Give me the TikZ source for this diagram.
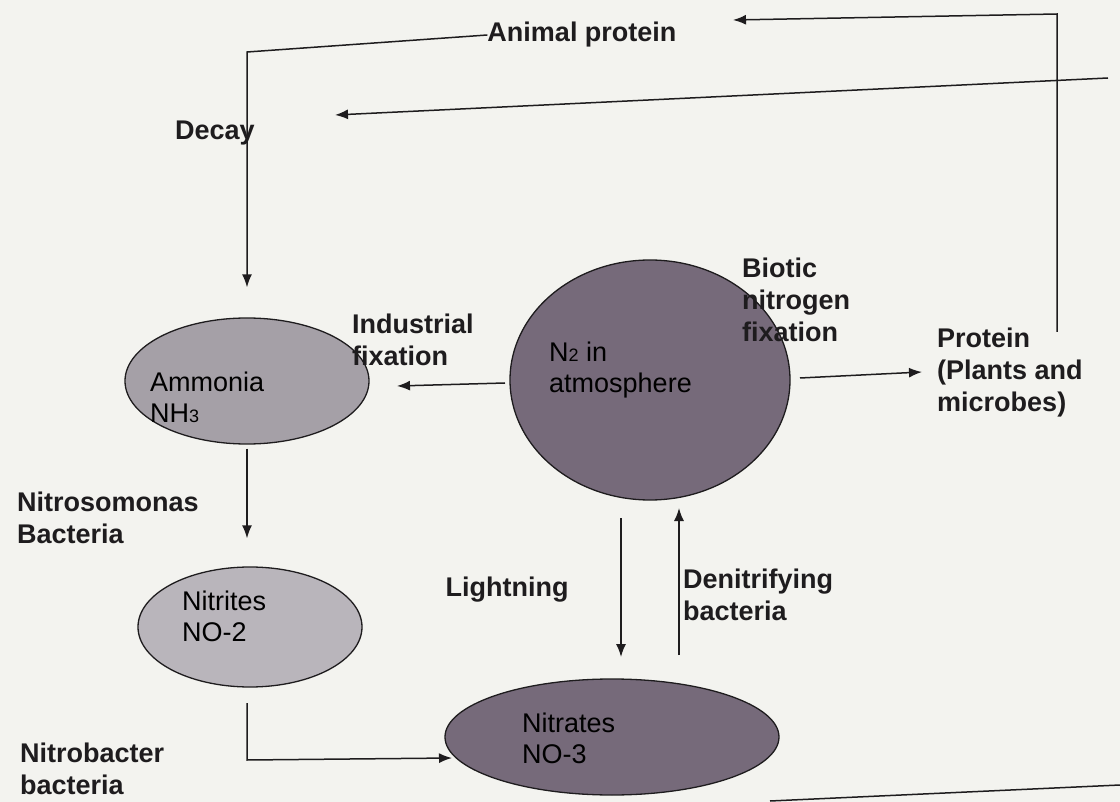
\documentclass[tikz,border=0pt]{standalone}
\usepackage{fontspec}
\setmainfont{Liberation Sans}
\usetikzlibrary{shapes.geometric,arrows.meta}
\definecolor{paper}{RGB}{243,243,239}
\definecolor{darkblob}{RGB}{118,106,122}
\definecolor{midblob}{RGB}{165,160,167}
\definecolor{lightblob}{RGB}{185,181,187}
\definecolor{ink}{RGB}{30,28,30}
\tikzset{
  blob/.style={ellipse, draw=ink, line width=1.3pt, inner sep=0pt},
  lbl/.style={font=\fontsize{27}{32}\selectfont\bfseries, text=ink, align=left, inner sep=0pt},
  intxt/.style={font=\fontsize{27}{31}\selectfont, text=black, align=left, inner sep=0pt, anchor=west},
  arr/.style={draw=ink, line width=1.5pt, -{Latex[length=13pt,width=10pt]}},
  ln/.style={draw=ink, line width=1.5pt}
}
\begin{document}
\begin{tikzpicture}[x=1pt,y=-1pt]
\useasboundingbox (0,0) rectangle (1120,802);
\fill[paper] (0,0) rectangle (1120,802);

% ellipses
\node[blob, fill=midblob, minimum width=244pt, minimum height=126pt] (amm) at (247,381) {};
\node[blob, fill=darkblob, minimum width=280pt, minimum height=240pt] (n2) at (650,380) {};
\node[blob, fill=lightblob, minimum width=224pt, minimum height=120pt] (nit) at (250,627) {};
\node[blob, fill=darkblob, minimum width=334pt, minimum height=116pt] (nat) at (612,737) {};

% texts inside
\node[intxt] (ammt) at (150,397) {Ammonia\\NH{\fontsize{18}{18}\selectfont 3}};
\node[intxt] (n2t) at (549,370) {N{\fontsize{18}{18}\selectfont 2} in\\atmosphere};
\node[intxt] (nitt) at (182,616) {Nitrites\\NO-2};
\node[intxt] (natt) at (522,738) {Nitrates\\NO-3};

% labels
\node[lbl] (aptext) at (582,35) {Animal protein};
\node[lbl] (decay) at (215,133) {Decay};
\node[lbl, anchor=west] (indf) at (352,340) {Industrial\\fixation};
\node[lbl, anchor=west] (biot) at (742,300) {Biotic\\nitrogen\\fixation};
\node[lbl, anchor=west] (prot) at (937,373) {Protein\\(Plants and\\microbes)};
\node[lbl] (light) at (507,590) {Lightning};
\node[lbl, anchor=west] (denit) at (683,595) {Denitrifying\\bacteria};
\node[lbl, anchor=west] (nsm) at (17,518) {Nitrosomonas\\Bacteria};
\node[lbl, anchor=west] (nbc) at (20,769) {Nitrobacter\\bacteria};

% coordinates
\coordinate (r1) at (1057,332);
\coordinate (r2) at (1057,14);
\coordinate (aptip) at (733,20);
\coordinate (dk) at (247,52);
\coordinate (l2a) at (1108,78);
\coordinate (l2b) at (335,115);
\coordinate (ifs) at (505,383);
\coordinate (ift) at (397,386);
\coordinate (ps) at (800,378);
\coordinate (pt) at (922,372);
\coordinate (lis) at (621,518);
\coordinate (lit) at (621,657);
\coordinate (dns) at (679,655);
\coordinate (dnt) at (679,508);
\coordinate (nb1) at (247,703);
\coordinate (nb2) at (247,760);
\coordinate (nb3) at (452,758);
\coordinate (bl1) at (770,801);
\coordinate (bl2) at (1120,785);

% connectors
\draw[arr] (r1) -- (r2) -- (aptip);
\draw[arr, shorten >=30pt] (aptext.west) -- (dk) -- (dk |- amm.north);
\draw[arr] (l2a) -- (l2b);
\draw[arr] (ifs) -- (ift);
\draw[arr] (ps) -- (pt);
\draw[arr, shorten <=4pt, shorten >=28pt] (amm.south) -- (amm.south |- nit.north);
\draw[arr] (lis) -- (lit);
\draw[arr] (dns) -- (dnt);
\draw[arr] (nb1) -- (nb2) -- (nb3);
\draw[ln] (bl1) -- (bl2);
\end{tikzpicture}
\end{document}
